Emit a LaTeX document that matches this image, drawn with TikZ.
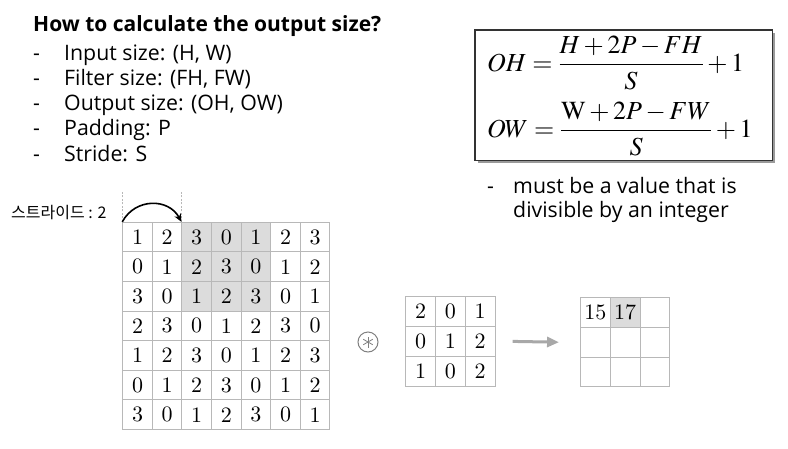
\documentclass[tikz,border=0pt]{standalone}
\usepackage{mathptmx}
\usepackage{fontspec}
\usetikzlibrary{arrows.meta,calc}
\newfontfamily\osans{Open Sans}
\newfontfamily\krfont{Noto Sans CJK KR}
\newfontfamily\lmr{lmroman10-regular.otf}
\definecolor{gridline}{HTML}{B8B8B8}
\definecolor{shade}{HTML}{DCDCDC}
\definecolor{arrowgray}{HTML}{A8A8A8}
\definecolor{boxdark}{HTML}{333333}
\definecolor{shadowgray}{HTML}{9A9A9A}
\begin{document}
\begin{tikzpicture}[x=1pt,y=-1pt,
  cell/.style={draw=gridline,line width=0.9pt,minimum size=29.6pt,inner sep=0pt,
    font=\lmr\fontsize{22}{22}\selectfont},
  txt/.style={anchor=base west,inner sep=0pt,font=\osans\fontsize{21.3}{24}\selectfont},
  hd/.style={anchor=base west,inner sep=0pt,font=\osans\bfseries\fontsize{21}{24}\selectfont},
  frm/.style={anchor=west,inner sep=0pt,font=\fontsize{26}{30}\selectfont}]
\useasboundingbox (0,0) rectangle (788,448);
\fill[white] (0,0) rectangle (788,448);

% heading and list
\node[hd] (head) at (33,31) {How to calculate the output size?};
\foreach \i/\t in {0/{Input size: (H, W)},1/{Filter size: (FH, FW)},2/{Output size: (OH, OW)},3/{Padding: P},4/{Stride: S}}{
  \node[txt] (d\i) at (33,60+\i*25.3) {-};
  \node[txt] (l\i) at (64,60+\i*25.3) {\t};
}

% formula box
\fill[shadowgray] (477.5,32.5) rectangle (775,163.2);
\node[draw=boxdark,line width=1.3pt,fill=white,minimum width=297.4pt,minimum height=130.7pt,anchor=north west,inner sep=0pt] (box) at (474.3,29.3) {};
\node[frm] (oh) at (487,63) {$OH=\displaystyle\frac{H+2P-FH}{S}+1$};
\node[frm] (ow) at (487,129) {$OW=\displaystyle\frac{\mathrm{W}+2P-FW}{S}+1$};

\node[txt] (nd) at (487,193) {-};
\node[txt] (n1) at (513,193) {must be a value that is};
\node[txt] (n2) at (513,217) {divisible by an integer};

% input grid
\foreach \r/\row in {0/{1,2,3,0,1,2,3},1/{0,1,2,3,0,1,2},2/{3,0,1,2,3,0,1},3/{2,3,0,1,2,3,0},4/{1,2,3,0,1,2,3},5/{0,1,2,3,0,1,2},6/{3,0,1,2,3,0,1}}{
  \foreach \v [count=\c from 0] in \row {
    \pgfmathtruncatemacro\sh{(\r<3)&&(\c>1)&&(\c<5)}
    \ifnum\sh=1 \def\cf{shade}\else\def\cf{white}\fi
    \node[cell,fill=\cf] (g-\r-\c) at (122.7+\c*29.6+14.8,222.3+\r*29.6+14.8) {\v};
  }
}

% stride label and arrow
\node[anchor=west,inner sep=0pt,font=\krfont\fontsize{16}{16}\selectfont] (stride) at (11,213) {스트라이드 : 2};
\coordinate (t0) at ($(g-0-0.north west)+(0,-30)$);
\coordinate (t2) at ($(g-0-2.north west)+(0,-30)$);
\draw[gridline,line width=0.5pt,dash pattern=on 2pt off 1.5pt] (g-0-0.north west) -- (t0);
\draw[gridline,line width=0.5pt,dash pattern=on 2pt off 1.5pt] (g-0-2.north west) -- (t2);
\draw[line width=1.6pt,-{Stealth[length=8pt,width=7pt]}] (g-0-0.north west) .. controls ($(g-0-0.north west)+(13,-24)$) and ($(g-0-2.north west)+(-13,-24)$) .. (g-0-2.north west);

% convolution symbol
\node[circle,draw=gray,line width=1pt,minimum size=20pt,inner sep=0pt] (conv) at (368,342) {};
\foreach \a in {30,90,...,330}{
  \draw[gray,line width=0.8pt] (conv.center) -- ++(\a:5.5);
}

% filter
\foreach \r/\row in {0/{2,0,1},1/{0,1,2},2/{1,0,2}}{
  \foreach \v [count=\c from 0] in \row {
    \node[cell,minimum size=29.8pt] (f-\r-\c) at (405.7+\c*29.8+14.9,296.7+\r*29.8+14.9) {\v};
  }
}

% output
\foreach \r in {0,1,2}{
  \foreach \c in {0,1,2}{
    \ifnum\r=0 \ifnum\c=1 \def\cf{shade}\else\def\cf{white}\fi\else\def\cf{white}\fi
    \node[cell,minimum size=29.8pt,fill=\cf] (o-\r-\c) at (580.5+\c*29.8+14.9,297.5+\r*29.8+14.9) {};
  }
}
\node[inner sep=0pt,font=\lmr\fontsize{22}{22}\selectfont] (v15) at (o-0-0) {15};
\node[inner sep=0pt,font=\lmr\fontsize{22}{22}\selectfont] (v17) at (o-0-1) {17};

% gray arrow
\coordinate (a1) at ($(f-1-2.east)+(17,0)$);
\coordinate (a2) at ($(o-1-0.west)+(-21,0)$);
\draw[arrowgray,line width=3pt,-{Triangle[length=12pt,width=10pt]}] (a1) -- (a2);
\end{tikzpicture}
\end{document}
